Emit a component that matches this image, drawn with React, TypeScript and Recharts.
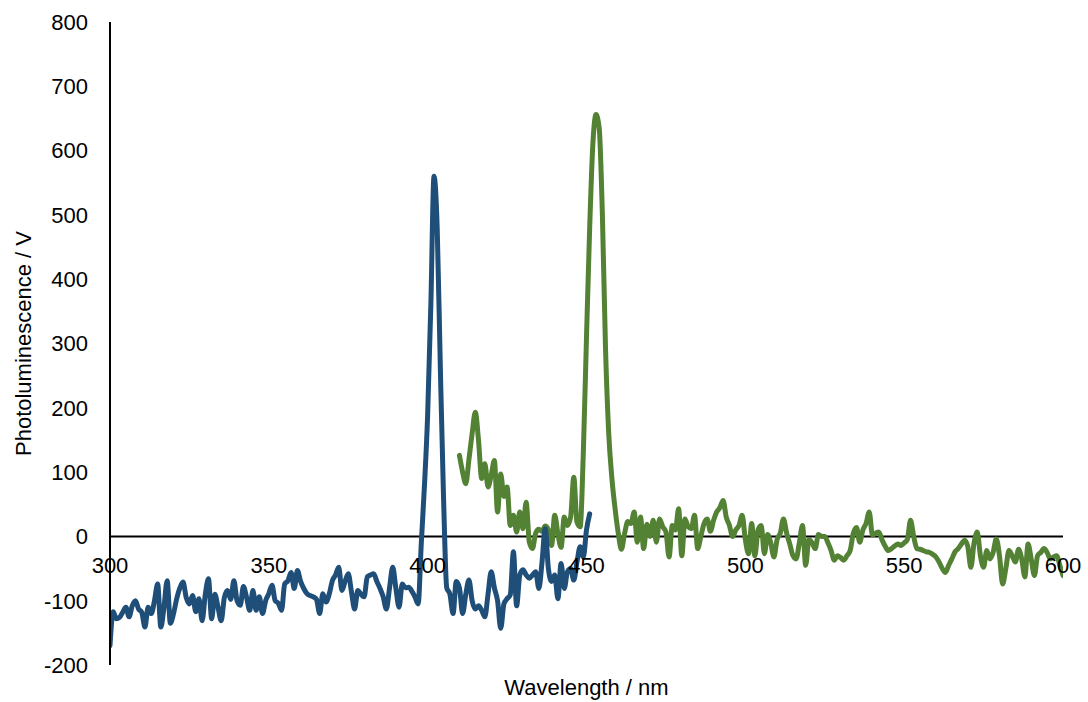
import React from "react";
import {
  LineChart,
  Line,
  XAxis,
  YAxis,
  ReferenceLine,
  ReferenceDot,
} from "recharts";

// wavelength grid (nm) – one reading per nm
const blueStartNm = 300;
const greenStartNm = 410;

// photoluminescence readings (V), blue sample, 300–451 nm
const blueValues = [
  -170, -117, -128, -126, -118, -110, -125, -108, -100, -113,
  -118, -141, -110, -120, -100, -74, -141, -110, -69, -135,
  -120, -97, -80, -71, -95, -105, -92, -117, -97, -131,
  -90, -66, -128, -90, -110, -131, -95, -84, -98, -69,
  -100, -107, -78, -95, -115, -84, -115, -94, -120, -100,
  -89, -76, -100, -104, -115, -74, -69, -56, -81, -53,
  -70, -81, -89, -92, -94, -98, -120, -89, -102, -90,
  -69, -60, -48, -84, -70, -58, -86, -113, -84, -90,
  -94, -63, -60, -58, -70, -81, -94, -113, -80, -48,
  -81, -110, -74, -80, -79, -85, -94, -105, -10, 80,
  190, 360, 560, 480, 260, 60, -80, -90, -120, -70,
  -80, -120, -90, -68, -100, -113, -108, -115, -125, -90,
  -55, -80, -100, -143, -105, -97, -91, -24, -108, -60,
  -52, -60, -65, -60, -55, -81, -40, 12, -50, -70,
  -60, -97, -42, -81, -55, -50, -68, -40, -16, -32,
  10, 35,
];

// photoluminescence readings (V), green sample, 410–600 nm
const greenValues = [
  126, 100, 82, 120, 160, 193, 150, 90, 113, 77,
  95, 118, 38, 97, 62, 77, 17, 33, 7, 38,
  12, 53, -9, -19, 5, 11, 8, 16, 10, -14,
  33, 4, -17, 30, 17, 30, 92, 22, 15, 130,
  310, 480, 610, 656, 635, 500, 290, 160, 90, 43,
  5, -20, 5, 23, 20, 38, -9, 30, -19, 19,
  0, 25, -9, 27, 15, 7, -32, 17, 10, 43,
  -30, 27, 15, 12, 33, -19, 0, 20, 27, 8,
  25, 38, 45, 56, 30, 17, 0, 10, 17, 33,
  -5, -27, 20, -30, 10, 17, -27, 3, -10, -32,
  -5, 5, 27, 5, -12, -30, -35, -10, 17, -45,
  -5, -10, -19, 3, 0, 0, -10, -22, -37, -30,
  -33, -37, -30, -22, 5, 14, -9, 10, 20, 38,
  2, 5, 7, -5, -15, -22, -19, -15, -12, -14,
  -10, -5, 25, 0, -19, -20, -22, -24, -25, -28,
  -32, -40, -50, -56, -45, -35, -24, -19, -12, -6,
  -15, -48, -10, 7, -30, -48, -22, -35, -25, -4,
  -30, -74, -50, -22, -30, -40, -20, -35, -63, -12,
  -35, -61, -30, -25, -19, -25, -35, -32, -30, -45,
  -61,
];

const xTicks = [300, 350, 400, 450, 500, 550, 600];
const yTicks = [-200, -100, 0, 100, 200, 300, 400, 500, 600, 700, 800];

const blueData = blueValues.map((v, i) => ({ nm: blueStartNm + i, pl: v }));
const greenData = greenValues.map((v, i) => ({ nm: greenStartNm + i, pl: v }));

const FONT = "'Liberation Sans', Arial, sans-serif";

export default function App() {
  return (
    <div
      style={{
        position: "absolute",
        left: 0,
        top: 0,
        width: 1088,
        height: 702,
        background: "#fff",
        fontFamily: FONT,
      }}
    >
      <LineChart
        width={1088}
        height={702}
        margin={{ top: 22, right: 25, left: 0, bottom: 0 }}
      >
        <XAxis
          type="number"
          dataKey="nm"
          domain={[300, 600]}
          ticks={xTicks}
          tick={false}
          tickLine={false}
          axisLine={false}
          height={37}
          allowDataOverflow
          label={{
            value: "Wavelength / nm",
            position: "insideBottom",
            offset: 7,
            fill: "#000",
            fontSize: 22,
            fontFamily: FONT,
          }}
        />
        <YAxis
          type="number"
          domain={[-200, 800]}
          ticks={yTicks}
          width={110}
          tickLine={false}
          tickSize={0}
          tickMargin={22}
          axisLine={{ stroke: "#000", strokeWidth: 2 }}
          tick={{ fill: "#000", fontSize: 22, fontFamily: FONT }}
          allowDataOverflow
          label={{
            value: "Photoluminescence / V",
            angle: -90,
            position: "insideLeft",
            offset: 23,
            fill: "#000",
            fontSize: 22,
            fontFamily: FONT,
            style: { textAnchor: "middle" },
          }}
        />
        <ReferenceLine y={0} stroke="#000" strokeWidth={2} />
        {xTicks.map((t) => (
          <ReferenceDot
            key={t}
            x={t}
            y={0}
            r={0}
            stroke="none"
            fill="none"
            label={{
              value: String(t),
              position: "bottom",
              offset: 21,
              fill: "#000",
              fontSize: 22,
              fontFamily: FONT,
            }}
          />
        ))}
        <Line
          data={greenData}
          dataKey="pl"
          type="monotone"
          stroke="#548235"
          strokeWidth={5}
          strokeLinejoin="round"
          strokeLinecap="round"
          dot={false}
          activeDot={false}
          isAnimationActive={false}
        />
        <Line
          data={blueData}
          dataKey="pl"
          type="monotone"
          stroke="#1f4e79"
          strokeWidth={5}
          strokeLinejoin="round"
          strokeLinecap="round"
          dot={false}
          activeDot={false}
          isAnimationActive={false}
        />
      </LineChart>
    </div>
  );
}
